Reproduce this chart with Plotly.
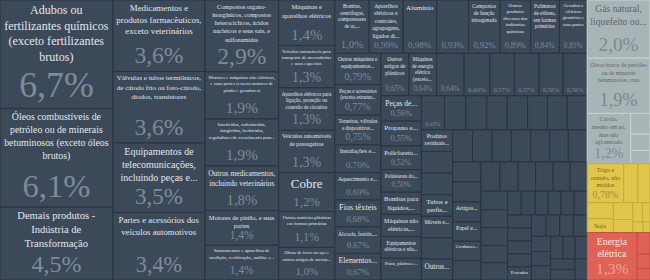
import math
import plotly.graph_objects as go

# ---------------- data (shares of total, %) ----------------
transf_labels = [
    "Adubos ou<br>fertilizantes químicos<br>(exceto fertilizantes<br>brutos)",
    "Óleos combustíveis de<br>petróleo ou de minerais<br>betuminosos (exceto óleos<br>brutos)",
    "Demais produtos -<br>Indústria de<br>Transformação",
    "Medicamentos e<br>produtos farmacêuticos,<br>exceto veterinários",
    "Válvulas e tubos termiônicos,<br>de cátodo frio ou foto-cátodo,<br>diodos, transistores",
    "Equipamentos de<br>telecomunicações,<br>incluindo peças e...",
    "Partes e acessórios dos<br>veículos automotivos",
    "Compostos organo-<br>inorgânicos, compostos<br>heterocíclicos, ácidos<br>nucleicos e seus sais, e<br>sulfonamidas",
    "Motores e máquinas não elétricos,<br>e suas partes (exceto motores de<br>pistão e geradores)",
    "Inseticidas, rodenticidas,<br>fungicidas, herbicidas,<br>reguladores de crescimento para...",
    "Outros medicamentos,<br>incluindo veterinários",
    "Motores de pistão, e suas<br>partes",
    "Instrumentos e aparelhos de<br>medição, verificação, análise e...",
    "Máquinas e<br>aparelhos elétricos",
    "Veículos automóveis para<br>transporte de mercadorias<br>e usos especiais",
    "Aparelhos elétricos para<br>ligação, proteção ou<br>conexão de circuitos",
    "Veículos automóveis<br>de passageiros",
    "Cobre",
    "Outras matérias plásticas<br>em formas primárias",
    "Obras de ferro ou aço e<br>outros artigos de metais...",
    "Bombas,<br>centrífugas,<br>compressores<br>de ar,...",
    "Aparelhos<br>elétricos e<br>controles,<br>agrupagens,<br>ligados di...",
    "Alumínio",
    "",
    "Compostos<br>de função<br>nitrogenada",
    "Outros<br>produtos<br>diversos das<br>indústrias<br>químicas",
    "Polímeros<br>de etileno,<br>em formas<br>primárias",
    "Geradores<br>elétricos<br>giratórios e<br>suas partes",
    "Outras máquinas e<br>equipamentos...",
    "Peças e acessórios<br>(exceto estrutur...",
    "Torneiras, válvulas<br>e dispositivos...",
    "Instalações e...",
    "Aquecimento e...",
    "Fios têxteis",
    "Álcoois, fenóis,...",
    "Elementos...",
    "Outros<br>artigos de<br>plásticos",
    "Máquinas<br>de energia<br>elétrica<br>(exceto...",
    "", "", "", "", "", "",
    "Peças de...",
    "Propano e...",
    "Policloreto...",
    "Poliésteres do...",
    "Bombas para<br>líquidos,...",
    "Máquinas não<br>elétricas,...",
    "Equipamentos<br>elétricos e não...",
    "Prata, platina e...",
    "", "", "", "", "", "", "", "",
    "Produtos<br>residuais...", "", "", "Tubos e<br>perfis...", "Móveis e...", "", "Outros...",
    "", "", "", "", "", "", "",
    "", "", "Artigos...", "Papel e...", "Cordames...", "",
    "", "", "", "", "", "",
    "", "", "", "", "",
    "", "", "", "", "", "", "", "", "", "", "Pescados",
    "", "", "", "", "", "", "", "", "", "", "", "", "",
]
transf_values = [
    6.7, 6.1, 4.5,
    3.6, 3.6, 3.5, 3.4,
    2.9, 1.9, 1.9, 1.8, 1.4, 1.4,
    1.4, 1.3, 1.3, 1.3, 1.2, 1.1, 1.0,
    1.0, 0.99, 0.98, 0.93, 0.92, 0.89, 0.84, 0.81,
    0.79, 0.77, 0.75, 0.70, 0.69, 0.68, 0.67, 0.67,
    0.65, 0.64, 0.64, 0.60, 0.57, 0.57, 0.56, 0.56,
    0.56, 0.55, 0.52, 0.50, 0.49, 0.49, 0.48, 0.48,
    0.43, 0.40, 0.39, 0.38, 0.38, 0.37, 0.37, 0.37,
    0.37, 0.37, 0.37, 0.37, 0.37, 0.36, 0.36,
    0.35, 0.34, 0.34, 0.34, 0.33, 0.33, 0.33,
    0.31, 0.31, 0.31, 0.30, 0.30, 0.30,
    0.30, 0.29, 0.28, 0.28, 0.27, 0.27,
    0.27, 0.26, 0.26, 0.25, 0.25,
    0.18, 0.18, 0.17, 0.17, 0.17, 0.17, 0.17, 0.17, 0.17, 0.17, 0.17,
    0.17, 0.16, 0.16, 0.16, 0.16, 0.15, 0.15, 0.15, 0.15, 0.15, 0.14, 0.14, 0.14,
]

extr_labels = [
    "Gás natural,<br>liquefeito ou...",
    "Óleos brutos de petróleo<br>ou de minerais<br>betuminosos, crus",
    "Carvão,<br>mesmo em pó,<br>mas não<br>aglomerado",
    "", "", "",
]
extr_values = [2.0, 1.9, 1.2, 0.22, 0.17, 0.14]

agro_labels = [
    "Trigo e<br>centeio, não<br>moídos",
    "", "", "", "Soja", "", "", "", "", "", "",
]
agro_values = [0.78, 0.30, 0.26, 0.23, 0.20, 0.18, 0.14, 0.10, 0.08, 0.06, 0.04]

elet_labels = ["Energia<br>elétrica", "", "", ""]
elet_values = [1.3, 0.15, 0.10, 0.08]

sector_keys = ["transf", "extr", "agro", "elet"]
sector_names = ["Indústria de Transformação", "Indústria Extrativa",
                "Agropecuária", "Eletricidade e gás"]

# ---------------- styles ----------------
STYLE = {
    "transf": dict(fill="#3c4959", line="#2a3440", lab="#e3e7eb", pct="#7e8b99"),
    "extr": dict(fill="#a8b5b7", line="#c9d2d3", lab="#5c6567", pct="#7d898b"),
    "agro": dict(fill="#e0c74c", line="#c4ab3a", lab="#6d5e22", pct="#a48e36"),
    "elet": dict(fill="#df6257", line="#c44d43", lab="#fde9e5", pct="#f1a49b"),
}
FONT = "Liberation Serif"
W, H = 650, 280
RATIO = 1.618034


def fmt_pct(v):
    s = f"{v:.1f}" if v >= 1 else f"{v:.2f}"
    return s.replace(".", ",") + "%"


def squarify_sizes(vals, x0, y0, x1, y1):
    """Approximate (w, h) of each tile, mirroring d3 squarify (for font sizing)."""
    order = sorted(range(len(vals)), key=lambda k: -vals[k])
    sv = [vals[k] for k in order]
    out = [None] * len(vals)
    value = sum(sv)
    i0, n = 0, len(sv)
    while i0 < n:
        dx, dy = x1 - x0, y1 - y0
        i1 = i0
        sumv = sv[i1]; i1 += 1
        minv = maxv = sumv
        alpha = max(dy / dx, dx / dy) / (value * RATIO)
        beta = sumv * sumv * alpha
        minr = max(maxv / beta, beta / minv)
        while i1 < n:
            nv = sv[i1]
            s2 = sumv + nv
            mn, mx = min(minv, nv), max(maxv, nv)
            beta = s2 * s2 * alpha
            nr = max(mx / beta, beta / mn)
            if nr > minr:
                break
            sumv, minv, maxv, minr = s2, mn, mx, nr
            i1 += 1
        if dx < dy:
            hh = dy * sumv / value
            xx = x0
            for k in range(i0, i1):
                ww = dx * sv[k] / sumv
                out[order[k]] = (xx, y0, ww, hh)
                xx += ww
            y0 += hh
        else:
            ww = dx * sumv / value
            yy = y0
            for k in range(i0, i1):
                hh = dy * sv[k] / sumv
                out[order[k]] = (x0, yy, ww, hh)
                yy += hh
            x0 += ww
        value -= sumv
        i0 = i1
    return out


def em_width(line):
    w = 0.0
    for ch in line:
        if ch in "iljtfr.,:;!()- 'íìï":
            w += 0.29
        elif ch in "mwMW":
            w += 0.76
        elif ch.isupper():
            w += 0.66
        else:
            w += 0.48
    return w


groups = {
    "transf": (transf_labels, transf_values),
    "extr": (extr_labels, extr_values),
    "agro": (agro_labels, agro_values),
    "elet": (elet_labels, elet_values),
}
sector_totals = [sum(groups[k][1]) for k in sector_keys]
sector_tiles = squarify_sizes(sector_totals, 0, 0, W, H)

ids, parents, values = ["root"], [""], [0]
labs, pcts = [""], [""]
fills, lines = ["#3c4959"], ["#2a3440"]
lab_cols, pct_cols = ["#ffffff"], ["#ffffff"]
lab_sz, pct_sz = [10], [10]

for si, (key, name) in enumerate(zip(sector_keys, sector_names)):
    st = STYLE[key]
    ids.append(key); parents.append("root"); values.append(0)
    labs.append(""); pcts.append("")
    fills.append(st["fill"]); lines.append(st["line"])
    lab_cols.append(st["lab"]); pct_cols.append(st["pct"])
    lab_sz.append(10); pct_sz.append(10)
    lab_list, val_list = groups[key]
    sx, sy, sw, sh = sector_tiles[si]
    tiles = squarify_sizes(val_list, sx, sy, sx + sw, sy + sh)
    for i, (lab, v) in enumerate(zip(lab_list, val_list)):
        ids.append(f"{key}-{i}"); parents.append(key); values.append(v)
        _, _, tw, th = tiles[i]
        show = v >= 0.5 or (lab == "" and v >= 0.42)
        ptxt = fmt_pct(v)
        if show:
            psz = min(0.33 * th, 0.32 * tw, (tw - 4) / em_width(ptxt.replace("%", "mm")))
        else:
            psz = 0
        nl = lab.count("<br>") + 1
        longest = max((em_width(x) for x in lab.split("<br>")), default=1) or 1
        lsz = min(13, (tw - 5) / longest, (th - 1.15 * psz - 4) / (1.3 * nl))
        lsz = max(3.5, lsz)
        labs.append(lab)
        pcts.append(ptxt if show else "")
        fills.append(st["fill"]); lines.append(st["line"])
        lab_cols.append(st["lab"]); pct_cols.append(st["pct"])
        lab_sz.append(round(lsz, 2)); pct_sz.append(round(max(psz, 4), 2))

common = dict(
    ids=ids, labels=ids, parents=parents, values=values, branchvalues="remainder",
    sort=True,
    tiling=dict(packing="squarify", squarifyratio=RATIO, pad=0),
    pathbar=dict(visible=False),
    hoverinfo="skip",
    domain=dict(x=[0, 1], y=[0, 1]),
)

fam = [FONT] * len(ids)

t_boxes = go.Treemap(
    **common,
    text=labs, texttemplate="%{text}", textposition="top center",
    textfont=dict(family=fam, size=lab_sz, color=lab_cols),
    insidetextfont=dict(family=fam, size=lab_sz, color=lab_cols),
    marker=dict(colors=fills, line=dict(color=lines, width=1),
                pad=dict(t=0, l=0, r=0, b=0)),
)
t_pct = go.Treemap(
    **common,
    text=pcts, texttemplate="%{text}", textposition="bottom center",
    textfont=dict(family=fam, size=pct_sz, color=pct_cols),
    insidetextfont=dict(family=fam, size=pct_sz, color=pct_cols),
    marker=dict(colors=["rgba(0,0,0,0)"] * len(ids),
                line=dict(color="rgba(0,0,0,0)", width=0),
                pad=dict(t=0, l=0, r=0, b=0)),
)

fig = go.Figure([t_boxes, t_pct])
fig.update_layout(
    width=W, height=H,
    margin=dict(l=0, r=0, t=0, b=0),
    paper_bgcolor="#3c4959",
    font=dict(family=FONT),
    showlegend=False,
    hovermode=False,
)
fig.write_html("out.html")
